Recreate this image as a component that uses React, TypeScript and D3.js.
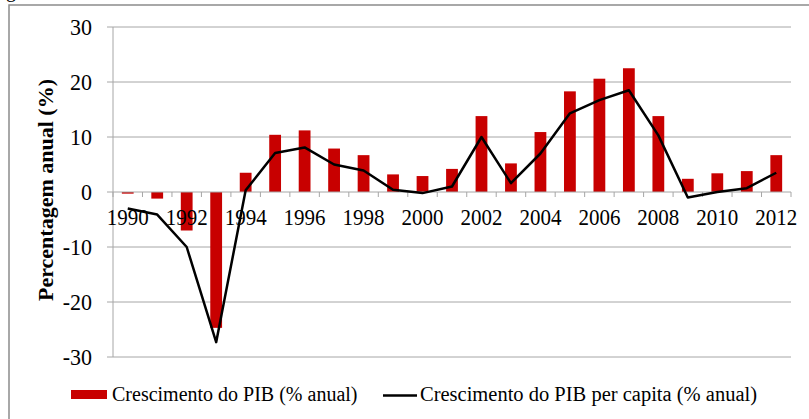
import React from 'react';
import * as d3 from 'd3';

const years: string[] = [
  '1990','1991','1992','1993','1994','1995','1996','1997','1998','1999','2000',
  '2001','2002','2003','2004','2005','2006','2007','2008','2009','2010','2011','2012',
];
const gdpGrowth: number[] = [
  -0.3, -1.2, -7.0, -24.7, 3.5, 10.4, 11.2, 7.9, 6.7, 3.2, 2.9,
  4.2, 13.8, 5.2, 10.9, 18.3, 20.6, 22.5, 13.8, 2.4, 3.4, 3.8, 6.7,
];
const gdpPerCapitaGrowth: number[] = [
  -3.0, -4.1, -10.0, -27.3, 0.3, 7.1, 8.1, 5.0, 3.9, 0.4, -0.2,
  1.0, 10.0, 1.6, 7.0, 14.3, 16.7, 18.5, 10.3, -1.0, 0.0, 0.7, 3.5,
];
const yTicks: number[] = [-30, -20, -10, 0, 10, 20, 30];
const xTickLabels: string[] = ['1990','1992','1994','1996','1998','2000','2002','2004','2006','2008','2010','2012'];
const yTitle = 'Percentagem anual (%)';
const seriesNames: string[] = ['Crescimento do PIB (% anual)', 'Crescimento do PIB per capita (% anual)'];

const W = 809;
const H = 419;
const plotL = 113;
const plotR = 791;
const plotT = 27;
const plotB = 357;
const RED = '#c80000';
const GRID = '#a6a6a6';
const FONT = '"Liberation Serif", "Times New Roman", serif';

export default function App() {
  const x = d3.scaleBand<string>().domain(years).range([plotL, plotR]).paddingInner(0.6).paddingOuter(0.3);
  const y = d3.scaleLinear().domain([-30, 30]).range([plotB, plotT]);
  const step = x.step();
  const center = (yr: string) => (x(yr) as number) + x.bandwidth() / 2;
  const y0 = y(0);

  const line = d3.line<number>()
    .x((_, i) => center(years[i]))
    .y((d) => y(d));

  const boundaries = d3.range(years.length + 1).map((i) => plotL + i * step);

  return (
    <svg width={W} height={H} style={{ position: 'absolute', left: 0, top: 0, background: '#fff' }} fontFamily={FONT}>
      <rect x={0} y={0} width={W} height={H} fill="#fff" />
      {/* clipped caption fragment */}
      <text x={6} y={-3} fontSize={20} fill="#000">g</text>
      {/* outer frame */}
      <rect x={9} y={5} width={W + 20} height={H + 20} fill="none" stroke="#8c8c8c" strokeWidth={1.5} />

      {/* gridlines */}
      {yTicks.filter((t) => t !== 0).map((t) => (
        <line key={t} x1={plotL - 6} x2={plotR} y1={y(t)} y2={y(t)} stroke={GRID} strokeWidth={1} />
      ))}
      {/* y axis */}
      <line x1={plotL} x2={plotL} y1={plotT} y2={plotB} stroke={GRID} strokeWidth={1} />
      {yTicks.map((t) => (
        <text key={t} transform={`translate(92, ${y(t) + 7.5}) scale(1, 1.08)`} textAnchor="end" fontSize={22} fill="#000">{t}</text>
      ))}

      {/* bars */}
      {gdpGrowth.map((v, i) => (
        <rect key={years[i]} x={x(years[i])} y={Math.min(y(v), y0)} width={x.bandwidth()} height={Math.abs(y(v) - y0)} fill={RED} />
      ))}

      {/* zero axis */}
      <line x1={plotL - 6} x2={plotR} y1={y0} y2={y0} stroke={GRID} strokeWidth={1} />
      {boundaries.map((b, i) => (
        <line key={i} x1={b} x2={b} y1={y0} y2={y0 + 5} stroke={GRID} strokeWidth={1} />
      ))}
      {xTickLabels.map((lab) => (
        <text key={lab} transform={`translate(${center(lab)}, 225) scale(1, 1.1)`} textAnchor="middle" fontSize={21} fill="#000">{lab}</text>
      ))}

      {/* line */}
      <path d={line(gdpPerCapitaGrowth) || ''} fill="none" stroke="#000" strokeWidth={2.5} strokeLinejoin="round" />

      {/* y title */}
      <text transform={`translate(53, ${(plotT + plotB) / 2 - 2}) rotate(-90)`} textAnchor="middle" fontSize={22} fontWeight="bold" fill="#000">{yTitle}</text>

      {/* legend */}
      <rect x={71} y={390} width={36} height={9} fill={RED} />
      <text x={112} y={401} fontSize={20} fill="#000">{seriesNames[0]}</text>
      <line x1={383} x2={417} y1={395.5} y2={395.5} stroke="#000" strokeWidth={2.5} />
      <text x={420} y={401} fontSize={20.5} fill="#000">{seriesNames[1]}</text>
    </svg>
  );
}
